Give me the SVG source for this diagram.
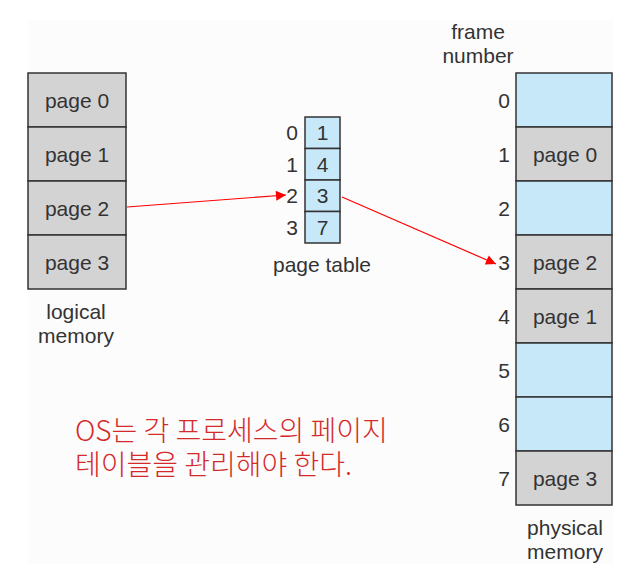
<svg xmlns="http://www.w3.org/2000/svg" width="623" height="588" viewBox="0 0 623 588">
<defs>
<marker id="ah" viewBox="0 0 10 10" refX="10" refY="5" markerWidth="13" markerHeight="10" markerUnits="userSpaceOnUse" orient="auto">
<path d="M0,0 L10,5 L0,10 z" fill="#ff0000"/>
</marker>
</defs>
<style>
.g{fill:#d3d3d3;stroke:#333;stroke-width:1.5}
.b{fill:#c7e8f8;stroke:#333;stroke-width:1.5}
.t{font-family:"Liberation Sans",Arial,sans-serif;font-size:21px;fill:#333}
.m{text-anchor:middle}
.e{text-anchor:end}
.k{font-family:"Noto Sans CJK KR",sans-serif;font-size:28px;fill:#d42a2a;font-weight:300}
.c{fill:none;stroke:#ff0000;stroke-width:1.2}
</style>
<rect x="0" y="0" width="623" height="588" fill="#ffffff"/>
<rect x="28" y="20" width="586" height="544" fill="#fcfcfc"/>
<g id="logical-memory">
<rect class="g" x="28" y="73" width="98" height="54"/>
<rect class="g" x="28" y="127" width="98" height="54"/>
<rect class="g" x="28" y="181" width="98" height="54"/>
<rect class="g" x="28" y="235" width="98" height="54"/>
<text class="t m" x="77" y="108">page 0</text>
<text class="t m" x="77" y="162">page 1</text>
<text class="t m" x="77" y="216">page 2</text>
<text class="t m" x="77" y="270">page 3</text>
<text class="t m" x="76" y="319">logical</text>
<text class="t m" x="76" y="343">memory</text>
</g>
<g id="page-table">
<rect class="b" x="305" y="117" width="35" height="31.5"/>
<rect class="b" x="305" y="148.5" width="35" height="31.5"/>
<rect class="b" x="305" y="180" width="35" height="31.5"/>
<rect class="b" x="305" y="211.5" width="35" height="31.5"/>
<text class="t m" x="322.5" y="140">1</text>
<text class="t m" x="322.5" y="172">4</text>
<text class="t m" x="322.5" y="203">3</text>
<text class="t m" x="322.5" y="235">7</text>
<text class="t e" x="298" y="140">0</text>
<text class="t e" x="298" y="172">1</text>
<text class="t e" x="298" y="203">2</text>
<text class="t e" x="298" y="235">3</text>
<text class="t m" x="322" y="272">page table</text>
</g>
<g id="physical-memory">
<rect class="b" x="516" y="73" width="96" height="54"/>
<rect class="g" x="516" y="127" width="96" height="54"/>
<rect class="b" x="516" y="181" width="96" height="54"/>
<rect class="g" x="516" y="235" width="96" height="54"/>
<rect class="g" x="516" y="289" width="96" height="54"/>
<rect class="b" x="516" y="343" width="96" height="54"/>
<rect class="b" x="516" y="397" width="96" height="54"/>
<rect class="g" x="516" y="451" width="96" height="54"/>
<text class="t m" x="565" y="162">page 0</text>
<text class="t m" x="565" y="270">page 2</text>
<text class="t m" x="565" y="324">page 1</text>
<text class="t m" x="565" y="486">page 3</text>
<text class="t e" x="510" y="108">0</text>
<text class="t e" x="510" y="162">1</text>
<text class="t e" x="510" y="216">2</text>
<text class="t e" x="510" y="270">3</text>
<text class="t e" x="510" y="324">4</text>
<text class="t e" x="510" y="378">5</text>
<text class="t e" x="510" y="432">6</text>
<text class="t e" x="510" y="486">7</text>
<text class="t m" x="478" y="39">frame</text>
<text class="t m" x="478" y="63">number</text>
<text class="t m" x="565" y="535">physical</text>
<text class="t m" x="565" y="559">memory</text>
</g>
<g id="connectors">
<line class="c" x1="127" y1="207" x2="286" y2="195" marker-end="url(#ah)"/>
<line class="c" x1="342" y1="197" x2="496" y2="264" marker-end="url(#ah)"/>
</g>
<g id="note">
<text class="k" x="75" y="441">OS는 각 프로세스의 페이지</text>
<text class="k" x="75" y="475">테이블을 관리해야 한다.</text>
</g>
</svg>
